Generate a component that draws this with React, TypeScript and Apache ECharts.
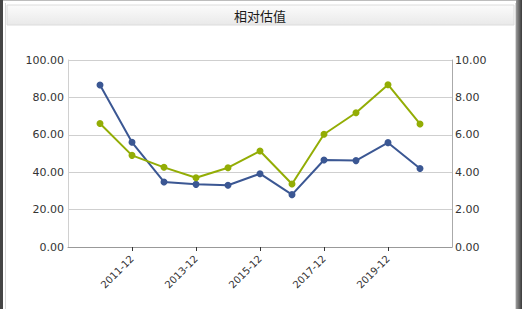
import React, { useEffect, useRef } from "react";
import * as echarts from "echarts";

const categories = ["", "2010-12", "2011-12", "2012-12", "2013-12", "2014-12", "2015-12", "2016-12", "2017-12", "2018-12", "2019-12", "2020-12", ""];
const blueValues = [null, 86.6, 56.0, 34.8, 33.5, 33.0, 39.2, 28.0, 46.5, 46.2, 55.8, 42.0, null];
const greenValues = [null, 6.6, 4.9, 4.26, 3.7, 4.24, 5.13, 3.37, 6.03, 7.18, 8.68, 6.58, null];
const leftTicks = { min: 0, max: 100, interval: 20 };
const rightTicks = { min: 0, max: 10, interval: 2 };
const titleText = "相对估值";

export default function App() {
  const ref = useRef<HTMLDivElement>(null);
  useEffect(() => {
    const chart = echarts.init(ref.current!, null, { renderer: "svg" });
    const showIdx = (i: number) => i % 2 === 0 && i > 0 && i < categories.length - 1;
    chart.setOption({
      animation: false,
      backgroundColor: "#ffffff",
      textStyle: { fontFamily: "DejaVu Sans" },
      graphic: [
        { type: "rect", shape: { x: 0, y: 0, width: 3, height: 309 }, style: { fill: "#454545" }, silent: true },
        { type: "rect", shape: { x: 5, y: 3, width: 1, height: 306 }, style: { fill: "#d8d8d8" }, silent: true },
        { type: "rect", shape: { x: 515, y: 3, width: 1, height: 306 }, style: { fill: "#d8d8d8" }, silent: true },
        {
          type: "rect",
          shape: { x: 516, y: 0, width: 6, height: 309 },
          style: {
            fill: new echarts.graphic.LinearGradient(0, 0, 1, 0, [
              { offset: 0, color: "#9a9a9a" },
              { offset: 1, color: "#3a3a3a" },
            ]),
          },
          silent: true,
        },
        { type: "rect", shape: { x: 3, y: 0, width: 513, height: 1 }, style: { fill: "#bdbdbd" }, silent: true },
        {
          type: "rect",
          shape: { x: 7, y: 5, width: 507, height: 20 },
          style: {
            fill: new echarts.graphic.LinearGradient(0, 0, 0, 1, [
              { offset: 0, color: "#fbfbfb" },
              { offset: 1, color: "#e9e9e9" },
            ]),
            stroke: "#dcdcdc",
            lineWidth: 1,
          },
          silent: true,
        },
        {
          type: "text",
          x: 260,
          y: 15,
          style: {
            text: titleText,
            fill: "#1a1a1a",
            font: "13px 'Noto Sans CJK SC'",
            align: "center",
            verticalAlign: "middle",
          },
          silent: true,
        },
      ],
      grid: { left: 68, right: 70, top: 60, bottom: 62 },
      xAxis: {
        type: "category",
        data: categories,
        boundaryGap: false,
        axisLine: { show: true, lineStyle: { color: "#999", width: 1 } },
        axisTick: { show: true, interval: (i: number) => showIdx(i), length: 4, lineStyle: { color: "#333" } },
        axisLabel: {
          interval: (i: number) => showIdx(i),
          rotate: 45,
          fontSize: 10,
          color: "#333",
          fontFamily: "DejaVu Sans",
          margin: 10,
        },
        splitLine: { show: false },
      },
      yAxis: [
        {
          type: "value",
          position: "left",
          min: leftTicks.min,
          max: leftTicks.max,
          interval: leftTicks.interval,
          axisLine: { show: true, lineStyle: { color: "#d0d0d0" } },
          axisTick: { show: false },
          axisLabel: { formatter: (v: number) => v.toFixed(2), fontSize: 11, color: "#333", margin: 4, fontFamily: "DejaVu Sans" },
          splitLine: { show: true, lineStyle: { color: "#cfcfcf", width: 1 } },
        },
        {
          type: "value",
          position: "right",
          min: rightTicks.min,
          max: rightTicks.max,
          interval: rightTicks.interval,
          axisLine: { show: true, lineStyle: { color: "#aaa" } },
          axisTick: { show: false },
          axisLabel: { formatter: (v: number) => v.toFixed(2), fontSize: 11, color: "#333", margin: 3, fontFamily: "DejaVu Sans" },
          splitLine: { show: false },
        },
      ],
      series: [
        {
          type: "line",
          yAxisIndex: 0,
          data: blueValues,
          symbol: "circle",
          symbolSize: 7,
          lineStyle: { color: "#3b5793", width: 2 },
          itemStyle: { color: "#3b5793" },
          connectNulls: false,
        },
        {
          type: "line",
          yAxisIndex: 1,
          data: greenValues,
          symbol: "circle",
          symbolSize: 7,
          lineStyle: { color: "#93ad05", width: 2 },
          itemStyle: { color: "#93ad05" },
          connectNulls: false,
        },
      ],
    });
    return () => chart.dispose();
  }, []);
  return <div ref={ref} style={{ position: "fixed", left: 0, top: 0, width: 522, height: 309 }} />;
}
